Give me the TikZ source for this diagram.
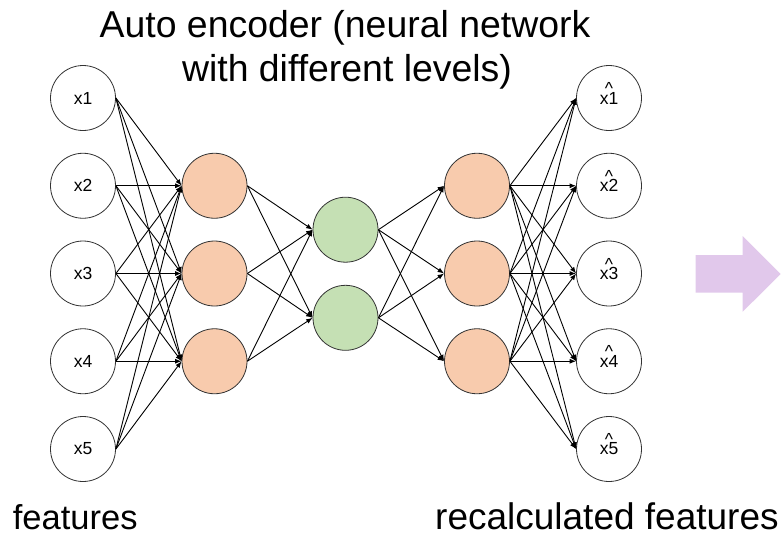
\documentclass[tikz,border=0pt]{standalone}
\usepackage{fontspec}
\setmainfont{Liberation Sans}
\usetikzlibrary{arrows.meta}
\definecolor{hidfill}{HTML}{F8CBAD}
\definecolor{codefill}{HTML}{C5E0B4}
\definecolor{flowarrow}{HTML}{E1C8EB}

\begin{document}
\begin{tikzpicture}[x=1pt,y=-1pt,
  neuron/.style={circle, draw=black!80, line width=0.8pt, minimum size=65pt,
                 inner sep=0pt, font=\fontsize{17.5}{20}\selectfont},
  infeat/.style={neuron, fill=white},
  hidden/.style={neuron, fill=hidfill},
  code/.style={neuron, fill=codefill},
  link/.style={draw=black, line width=0.9pt, -{Latex[length=6.5pt,width=5pt]}},
  hat/.style={font=\fontsize{17.5}{20}\selectfont, inner sep=0pt, anchor=north,
              text height=12.6pt, text depth=-6pt},
  caption/.style={inner sep=0pt}
]
\useasboundingbox (0,0) rectangle (784,539);

% titles and captions
\node[caption, anchor=base, font=\fontsize{37.4}{44}\selectfont] (title1) at (345,37.3) {Auto encoder (neural network};
\node[caption, anchor=base, font=\fontsize{37.4}{44}\selectfont] (title2) at (347,81.5) {with different levels)};
\node[caption, anchor=base west, font=\fontsize{34.5}{40}\selectfont] (capin) at (12.7,529.3) {features};
\node[caption, anchor=base west, font=\fontsize{37}{44}\selectfont] (capout) at (435,529.3) {recalculated features};

% input and reconstructed feature layers
\foreach \i in {1,...,5} {
  \node[infeat] (in\i) at (83, {98+87.75*(\i-1)}) {x\i};
  \node[infeat] (out\i) at (609, {98+87.75*(\i-1)}) {x\i};
  \node[hat] (hat\i) at ([yshift=16.3pt]out\i.center) {\textasciicircum};
}

% hidden layers
\foreach \j in {1,2,3} {
  \node[hidden] (h\j) at (214.5, {185.75+87.75*(\j-1)}) {};
  \node[hidden] (r\j) at (477, {185.75+87.75*(\j-1)}) {};
}
\node[code] (c1) at (345.5,229.7) {};
\node[code] (c2) at (345.5,317.8) {};

% fully connected links
\foreach \i in {1,...,5} \foreach \j in {1,2,3} \draw[link] (in\i.east) -- (h\j.west);
\foreach \j in {1,2,3} \foreach \k in {1,2} \draw[link] (h\j.east) -- (c\k.west);
\foreach \k in {1,2} \foreach \j in {1,2,3} \draw[link] (c\k.east) -- (r\j.west);
\foreach \j in {1,2,3} \foreach \i in {1,...,5} \draw[link] (r\j.east) -- (out\i.west);

% block arrow on the right
\fill[flowarrow] (695.7,255) -- (742.7,255) -- (742.7,236) -- (780.7,274)
  -- (742.7,311.7) -- (742.7,292.7) -- (695.7,292.7) -- cycle;
\end{tikzpicture}
\end{document}
